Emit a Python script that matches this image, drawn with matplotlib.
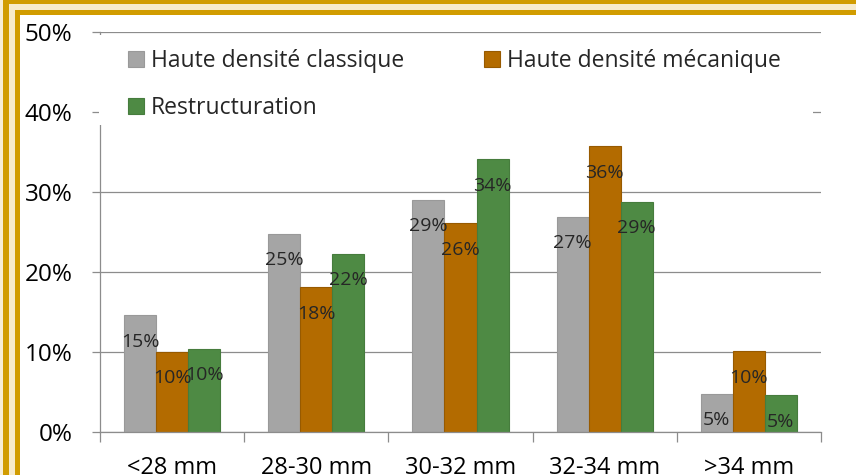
import matplotlib.pyplot as plt
from matplotlib.patches import Rectangle
import numpy as np

# data (percent)
categories = ["<28 mm", "28-30 mm", "30-32 mm", "32-34 mm", ">34 mm"]
series_names = ["Haute densité classique", "Haute densité mécanique", "Restructuration"]
classique = [14.6, 24.8, 29.0, 26.9, 4.8]
mecanique = [10.05, 18.1, 26.1, 35.7, 10.1]
restruct = [10.4, 22.3, 34.1, 28.8, 4.6]
yticks = [0, 10, 20, 30, 40, 50]

colors = ["#A5A5A5", "#B36B00", "#4E8A44"]
edges = ["#999999", "#975A00", "#467C3D"]

plt.rcParams['font.family'] = ['Open Sans', 'DejaVu Sans']

W, H = 856, 475
fig = plt.figure(figsize=(W / 100, H / 100), dpi=100)

# double gold frame on the left and top
def px_rect(x0, y0, x1, y1, c):
    fig.add_artist(Rectangle((x0 / W, 1 - y1 / H), (x1 - x0) / W, (y1 - y0) / H,
                             transform=fig.transFigure, color=c, lw=0, zorder=0))

px_rect(0, 0, W, H, "#F8EED5")
px_rect(3, 0, W, H, "#D19C00")
px_rect(9, 4, W, H, "#F7EBCB")
px_rect(15, 10, W, H, "#D19C00")
px_rect(20, 15, W, H, "white")

ax = fig.add_axes([100 / W, (H - 432) / H, 721 / W, 400 / H])
ax.set_facecolor("none")

x = np.arange(len(categories))
bw = 0.222
bars = []
for i, (vals, name) in enumerate(zip([classique, mecanique, restruct], series_names)):
    pos = x + (i - 1) * bw
    b = ax.bar(pos, vals, bw, color=colors[i], edgecolor=edges[i], linewidth=0.8,
               label=name, zorder=1)
    bars.append(b)
    for px, v in zip(pos, vals):
        ax.annotate("%d%%" % int(v + 0.5), (px, v), xytext=(0, -19),
                    textcoords="offset points", ha="center", va="center",
                    fontsize=14, color="#262626", zorder=4)

ax.set_xlim(-0.5, len(categories) - 0.5)
ax.set_ylim(0, 50)
ax.set_yticks(yticks)
ax.set_yticklabels(["%d%%" % t for t in yticks], fontsize=17.5)
ax.set_xticks(x)
ax.set_xticklabels(categories, fontsize=17)
ax.set_xticks(np.arange(len(categories) + 1) - 0.5, minor=True)

ax.set_axisbelow(True)
ax.grid(axis="y", color="#8C8C8C", linewidth=0.9)
for s in ["top", "right"]:
    ax.spines[s].set_visible(False)
for s in ["left", "bottom"]:
    ax.spines[s].set_color("#8C8C8C")
    ax.spines[s].set_linewidth(0.9)

ax.tick_params(axis="y", length=5.8, width=0.9, color="#8C8C8C", pad=14, labelcolor="black")
ax.tick_params(axis="x", which="major", length=0, pad=17, labelcolor="black")
ax.tick_params(axis="x", which="minor", length=7.2, width=0.9, color="#8C8C8C")

# white legend area that hides the 40% gridline
ax.add_patch(Rectangle((-0.002, 0.7675), 0.991, 0.225, transform=ax.transAxes,
                       facecolor="white", edgecolor="none", zorder=3, clip_on=False))

# row-wise order: classique, mecanique / restructuration
order = [0, 2, 1]
leg = ax.legend([bars[k] for k in order], [series_names[k] for k in order],
                loc="upper left", bbox_to_anchor=(0.0388, 0.957), ncol=2,
                frameon=False, fontsize=16.5, handlelength=0.7, handleheight=0.7,
                handletextpad=0.3, columnspacing=3.5, labelspacing=0.99, borderpad=0,
                borderaxespad=0)
leg.set_zorder(5)
for t in leg.get_texts():
    t.set_color("#262626")

fig.savefig("out.png", dpi=100)
